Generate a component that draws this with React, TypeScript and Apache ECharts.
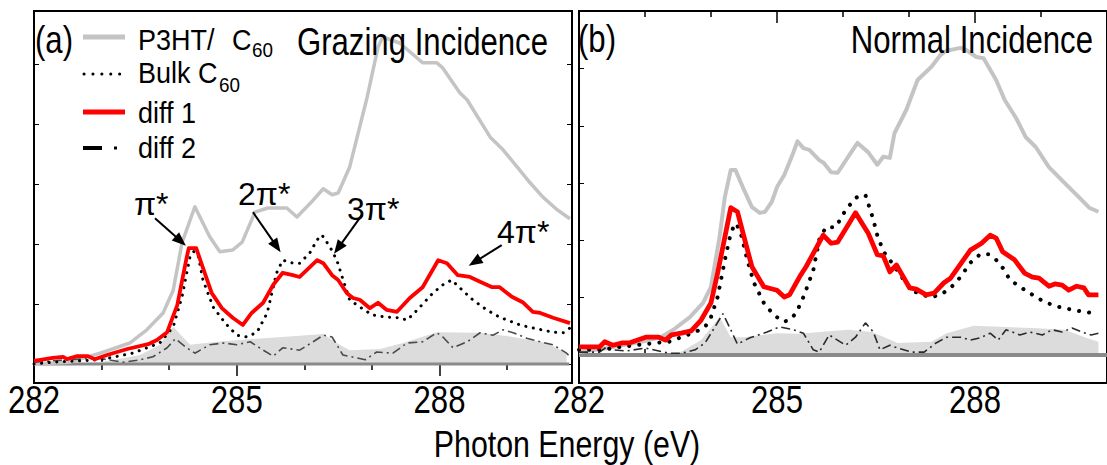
import React, { useEffect, useRef } from "react";
import * as echarts from "echarts";

// Photon energy tick labels (eV)
const energyTicks = [282, 285, 288];

// (a) Grazing incidence spectra: [photon energy (eV), intensity (a.u.)]
const grazingBlend = [
  [282.0, 0.0], [282.53, 0.03], [282.98, 0.18], [283.42, 0.35], [283.67, 0.57], [283.91, 0.85],
  [284.06, 1.23], [284.19, 2.02], [284.38, 2.62], [284.6, 2.12], [284.75, 1.87], [284.94, 1.9],
  [285.08, 2.03], [285.27, 2.53], [285.46, 2.6], [285.74, 2.6], [285.89, 2.45], [286.13, 2.73],
  [286.28, 2.92], [286.41, 2.82], [286.5, 2.85], [286.67, 3.28], [286.93, 4.45], [287.09, 5.28],
  [287.16, 5.45], [287.41, 5.35], [287.75, 5.02], [287.96, 5.02], [288.05, 4.93], [288.3, 4.52],
  [288.41, 4.4], [288.75, 3.78], [288.94, 3.57], [289.34, 3.02], [289.53, 2.78], [289.74, 2.57],
  [289.93, 2.42],
];
const grazingBulk = [
  [282.0, 0.0], [282.28, 0.03], [282.98, 0.07], [283.46, 0.18], [283.86, 0.35], [284.06, 0.62],
  [284.19, 1.12], [284.31, 1.8], [284.37, 1.88], [284.43, 1.8], [284.5, 1.4], [284.65, 0.95],
  [284.83, 0.68], [285.0, 0.48], [285.15, 0.45], [285.3, 0.53], [285.45, 0.85], [285.59, 1.52],
  [285.68, 1.73], [285.83, 1.68], [285.93, 1.68], [286.08, 1.85], [286.19, 2.07], [286.26, 2.15],
  [286.38, 1.95], [286.48, 1.73], [286.56, 1.45], [286.67, 1.07], [286.82, 0.95], [287.0, 0.82],
  [287.22, 0.78], [287.41, 0.77], [287.52, 0.73], [287.67, 0.9], [287.9, 1.18], [288.05, 1.32],
  [288.18, 1.4], [288.3, 1.27], [288.49, 1.07], [288.7, 0.9], [288.89, 0.78], [289.19, 0.65],
  [289.38, 0.6], [289.68, 0.53], [289.83, 0.52], [289.93, 0.6],
];
const grazingDiff1 = [
  [282.0, 0.05], [282.28, 0.1], [282.43, 0.12], [282.49, 0.08], [282.64, 0.13], [282.8, 0.13],
  [282.9, 0.08], [283.08, 0.15], [283.38, 0.25], [283.69, 0.33], [283.82, 0.4], [283.97, 0.53],
  [284.12, 0.98], [284.26, 1.78], [284.29, 1.93], [284.4, 1.93], [284.51, 1.57], [284.63, 1.18],
  [284.78, 0.93], [284.94, 0.77], [285.09, 0.65], [285.22, 0.85], [285.39, 1.02], [285.54, 1.32],
  [285.68, 1.52], [285.83, 1.48], [285.93, 1.45], [286.19, 1.73], [286.28, 1.68], [286.41, 1.48],
  [286.5, 1.4], [286.63, 1.18], [286.72, 1.1], [286.82, 1.07], [286.97, 0.93], [287.09, 1.02],
  [287.22, 0.9], [287.37, 0.87], [287.56, 1.1], [287.75, 1.28], [287.98, 1.73], [288.11, 1.68],
  [288.27, 1.48], [288.45, 1.45], [288.6, 1.37], [288.78, 1.28], [288.89, 1.28], [289.07, 1.12],
  [289.23, 1.03], [289.38, 0.87], [289.49, 0.85], [289.68, 0.77], [289.93, 0.68],
];
const grazingDiff2 = [
  [282.0, 0.03], [282.49, 0.07], [282.93, 0.1], [283.32, 0.03], [283.57, 0.07], [283.76, 0.12],
  [283.97, 0.27], [284.09, 0.42], [284.26, 0.27], [284.38, 0.18], [284.6, 0.32], [284.8, 0.35],
  [285.0, 0.32], [285.2, 0.37], [285.39, 0.23], [285.54, 0.13], [285.68, 0.27], [285.93, 0.23],
  [286.13, 0.37], [286.28, 0.48], [286.41, 0.45], [286.48, 0.32], [286.57, 0.15], [286.78, 0.1],
  [286.9, 0.07], [287.07, 0.2], [287.31, 0.18], [287.52, 0.35], [287.75, 0.37], [287.96, 0.52],
  [288.05, 0.45], [288.2, 0.27], [288.41, 0.37], [288.6, 0.52], [288.79, 0.48], [288.94, 0.57],
  [289.09, 0.52], [289.29, 0.43], [289.49, 0.37], [289.68, 0.32], [289.88, 0.18], [289.93, 0.12],
];
const grazingShade = [
  [282.0, 0.0], [282.98, 0.03], [283.57, 0.15], [283.86, 0.32], [284.06, 0.62], [284.31, 0.32],
  [284.71, 0.37], [285.39, 0.43], [285.93, 0.47], [286.28, 0.5], [286.48, 0.35], [286.67, 0.23],
  [287.12, 0.25], [287.46, 0.35], [287.96, 0.53], [288.6, 0.52], [289.09, 0.45], [289.59, 0.35],
  [289.88, 0.18],
];
const grazingBaseline = [[282.0, 0], [289.92, 0]];

// (b) Normal incidence spectra: [photon energy (eV), intensity (a.u.)]
const normalBlend = [
  [282.0, 0.05], [282.43, 0.12], [282.94, 0.23], [283.24, 0.31], [283.43, 0.44], [283.68, 0.66],
  [283.88, 0.91], [284.0, 1.19], [284.13, 2.06], [284.21, 2.76], [284.3, 3.23], [284.37, 3.23],
  [284.5, 2.88], [284.62, 2.58], [284.74, 2.48], [284.82, 2.5], [284.92, 2.67], [285.0, 2.93],
  [285.11, 3.14], [285.25, 3.54], [285.31, 3.73], [285.4, 3.61], [285.49, 3.58], [285.64, 3.4],
  [285.71, 3.35], [285.82, 3.19], [285.92, 3.18], [286.08, 3.46], [286.22, 3.7], [286.38, 3.54],
  [286.52, 3.32], [286.61, 3.46], [286.71, 3.44], [286.78, 3.87], [286.96, 4.28], [287.13, 4.8],
  [287.34, 5.03], [287.48, 5.24], [287.57, 5.31], [287.78, 5.36], [287.87, 5.32], [288.02, 5.2],
  [288.13, 5.18], [288.32, 4.8], [288.45, 4.45], [288.62, 4.14], [288.77, 3.8], [288.92, 3.63],
  [289.12, 3.28], [289.36, 3.0], [289.57, 2.76], [289.73, 2.57], [289.87, 2.5],
];
const normalBulk = [
  [282.0, 0.09], [282.36, 0.09], [282.61, 0.14], [282.86, 0.17], [283.16, 0.21], [283.36, 0.23],
  [283.55, 0.31], [283.76, 0.4], [283.91, 0.49], [284.0, 0.66], [284.1, 1.01], [284.21, 1.66],
  [284.3, 2.13], [284.37, 2.3], [284.44, 2.18], [284.55, 1.66], [284.65, 1.26], [284.8, 0.91],
  [284.95, 0.7], [285.1, 0.58], [285.19, 0.61], [285.29, 0.73], [285.4, 1.01], [285.55, 1.48],
  [285.64, 2.01], [285.74, 2.23], [285.89, 2.23], [286.04, 2.53], [286.19, 2.74], [286.28, 2.79],
  [286.34, 2.79], [286.38, 2.65], [286.46, 2.36], [286.53, 2.04], [286.63, 1.78], [286.74, 1.61],
  [286.89, 1.36], [287.04, 1.13], [287.19, 1.05], [287.34, 1.01], [287.48, 1.05], [287.63, 1.17],
  [287.78, 1.36], [287.93, 1.61], [288.08, 1.76], [288.2, 1.76], [288.32, 1.66], [288.42, 1.52],
  [288.53, 1.31], [288.68, 1.19], [288.87, 1.05], [289.06, 0.92], [289.27, 0.84], [289.47, 0.79],
  [289.66, 0.75], [289.81, 0.73],
];
const normalDiff1 = [
  [282.0, 0.14], [282.31, 0.14], [282.39, 0.23], [282.51, 0.17], [282.66, 0.21], [282.76, 0.21],
  [283.01, 0.31], [283.21, 0.31], [283.31, 0.26], [283.4, 0.35], [283.55, 0.38], [283.7, 0.42],
  [283.85, 0.61], [284.0, 0.91], [284.1, 1.43], [284.21, 2.06], [284.3, 2.57], [284.4, 2.5],
  [284.5, 2.06], [284.62, 1.54], [284.8, 1.19], [285.0, 1.13], [285.11, 1.01], [285.19, 1.05],
  [285.34, 1.36], [285.44, 1.54], [285.7, 2.09], [285.82, 1.95], [285.92, 1.97], [286.19, 2.48],
  [286.38, 2.13], [286.52, 1.75], [286.61, 1.73], [286.71, 1.45], [286.81, 1.57], [287.01, 1.17],
  [287.11, 1.15], [287.26, 1.05], [287.38, 1.08], [287.53, 1.26], [287.63, 1.34], [287.93, 1.83],
  [288.1, 1.95], [288.23, 2.09], [288.32, 2.04], [288.42, 1.8], [288.6, 1.66], [288.75, 1.43],
  [288.87, 1.36], [288.97, 1.34], [289.12, 1.2], [289.21, 1.24], [289.32, 1.22], [289.42, 1.13],
  [289.54, 1.2], [289.65, 1.17], [289.72, 1.05], [289.87, 1.05],
];
const normalDiff2 = [
  [282.0, 0.05], [282.31, 0.05], [282.42, 0.14], [282.51, 0.09], [282.72, 0.07], [283.01, 0.12],
  [283.21, 0.07], [283.36, 0.03], [283.55, 0.03], [283.76, 0.09], [283.91, 0.21], [284.06, 0.49],
  [284.18, 0.72], [284.3, 0.44], [284.4, 0.19], [284.59, 0.3], [284.85, 0.4], [285.04, 0.49],
  [285.25, 0.44], [285.4, 0.38], [285.55, 0.09], [285.64, 0.05], [285.79, 0.35], [286.04, 0.17],
  [286.19, 0.31], [286.34, 0.56], [286.46, 0.4], [286.56, 0.09], [286.71, 0.17], [286.83, 0.12],
  [287.04, 0.05], [287.23, 0.05], [287.41, 0.21], [287.57, 0.31], [287.78, 0.31], [287.93, 0.26],
  [288.08, 0.3], [288.23, 0.38], [288.35, 0.26], [288.47, 0.44], [288.68, 0.35], [288.83, 0.4],
  [289.02, 0.35], [289.17, 0.44], [289.32, 0.4], [289.47, 0.47], [289.62, 0.4], [289.76, 0.35],
  [289.87, 0.38],
];
const normalShade = [
  [282.0, 0.0], [283.51, 0.03], [283.85, 0.26], [284.06, 0.56], [284.13, 0.66], [284.3, 0.31],
  [284.5, 0.31], [285.0, 0.38], [285.34, 0.37], [285.64, 0.4], [286.08, 0.44], [286.44, 0.4],
  [286.83, 0.21], [287.34, 0.23], [287.57, 0.38], [287.98, 0.51], [288.87, 0.47], [289.36, 0.44],
  [289.66, 0.31], [289.87, 0.23],
];
const normalBaseline = [[282.0, 0], [290.0, 0]];

// Peak annotations in panel (a): label, arrow start, arrow end
const peakLabels = ["\u03c0*", "2\u03c0*", "3\u03c0*", "4\u03c0*"];
const peakArrows = [
  [[283.79, 2.43], [284.17, 2.05]],
  [[285.24, 2.53], [285.59, 1.96]],
  [[286.85, 2.48], [286.5, 1.93]],
  [[288.92, 1.98], [288.52, 1.7]],
];

const SANS = "'Liberation Sans', Arial, Helvetica, sans-serif";
// condensed look of the figure lettering
const SQUEEZE = 0.82;
const LEGEND_SQUEEZE = 0.9;

const BLEND_COLOR = "#c4c4c4";
const SHADE_COLOR = "#dcdcdc";
const BASE_COLOR = "#8a8a8a";

function energyAxes(grid: number, max: number) {
  const common = {
    type: "value",
    gridIndex: grid,
    min: 282,
    max,
    interval: 3,
    axisLine: { show: false },
    axisTick: { show: true, inside: true, length: 12, lineStyle: { color: "#000", width: 1.5 } },
    minorTick: { show: true, splitNumber: 3, length: 6, lineStyle: { color: "#000", width: 1.5 } },
    axisLabel: { show: false },
    splitLine: { show: false },
    minorSplitLine: { show: false },
  };
  return [
    { ...common, position: "bottom" },
    { ...common, position: "top" },
  ];
}

function intensityAxis(grid: number, position: string, min: number, max: number) {
  return {
    type: "value",
    gridIndex: grid,
    position,
    min,
    max,
    splitNumber: 6,
    axisLine: { show: false },
    axisTick: { show: true, inside: true, length: 5, lineStyle: { color: "#000", width: 1 } },
    axisLabel: { show: false },
    splitLine: { show: false },
  };
}

function panelSeries(
  xi: number,
  yi: number,
  d: { shade: number[][]; base: number[][]; blend: number[][]; bulk: number[][]; diff1: number[][]; diff2: number[][] },
  w: { blend: number; dot: number; gap: number; red: number; dd: string; base: number },
) {
  const ax = { xAxisIndex: xi, yAxisIndex: yi, symbol: "none", silent: true };
  return [
    { ...ax, type: "line", name: "shade", data: d.shade, lineStyle: { width: 0 }, areaStyle: { color: SHADE_COLOR, opacity: 1 }, z: 1 },
    { ...ax, type: "line", name: "baseline", data: d.base, lineStyle: { color: BASE_COLOR, width: w.base }, z: 2 },
    { ...ax, type: "line", name: "P3HT/C60", data: d.blend, lineStyle: { color: BLEND_COLOR, width: w.blend, join: "round" }, z: 3 },
    { ...ax, type: "line", name: "diff 2", data: d.diff2, lineStyle: { color: w.dd, width: 1.6, type: [9, 4, 2, 4] }, z: 4 },
    { ...ax, type: "line", name: "Bulk C60", data: d.bulk, lineStyle: { color: "#000", width: w.dot, type: [0.1, w.gap], cap: "round" }, z: 5 },
    { ...ax, type: "line", name: "diff 1", data: d.diff1, lineStyle: { color: "#ff0000", width: w.red, join: "round" }, z: 6 },
  ];
}

// text anchored at (x, y); y is the vertical middle of the line box
function txt(text: string, x: number, y: number, size: number, align = "left", squeeze = SQUEEZE) {
  return {
    type: "text",
    x,
    y,
    scaleX: squeeze,
    silent: true,
    z: 20,
    style: { text, fontSize: size, fontFamily: SANS, fill: "#000", align, verticalAlign: "middle" },
  };
}

export default function App() {
  const ref = useRef<HTMLDivElement>(null);

  useEffect(() => {
    if (!ref.current) return;
    const chart = echarts.init(ref.current, undefined, { renderer: "svg" });

    const series: any[] = [
      ...panelSeries(0, 0,
        { shade: grazingShade, base: grazingBaseline, blend: grazingBlend, bulk: grazingBulk, diff1: grazingDiff1, diff2: grazingDiff2 },
        { blend: 3.5, dot: 3, gap: 7.5, red: 3.8, dd: "#4a4a4a", base: 3 }),
      ...panelSeries(2, 2,
        { shade: normalShade, base: normalBaseline, blend: normalBlend, bulk: normalBulk, diff1: normalDiff1, diff2: normalDiff2 },
        { blend: 4, dot: 4, gap: 10, red: 4.8, dd: "#2a2a2a", base: 4 }),
    ];

    // arrows pointing at the C60 resonances
    series.push({
      type: "line",
      xAxisIndex: 0,
      yAxisIndex: 0,
      data: [],
      silent: true,
      z: 10,
      markLine: {
        silent: true,
        symbol: ["none", "triangle"],
        symbolSize: [11, 14],
        label: { show: false },
        lineStyle: { color: "#000", width: 2, type: "solid" },
        data: peakArrows.map(([a, b]) => [{ coord: a }, { coord: b }]),
      },
    });

    const lf = 30;
    const ls = LEGEND_SQUEEZE;
    const graphic: any[] = [
      // legend
      { type: "line", shape: { x1: 83, y1: 37, x2: 125, y2: 37 }, style: { stroke: BLEND_COLOR, lineWidth: 5 } },
      txt("P3HT/", 138, 39, lf, "left", ls),
      txt("C", 232, 39, lf, "left", ls),
      txt("60", 252, 50, 21, "left", ls),
      { type: "line", shape: { x1: 84, y1: 74, x2: 121, y2: 74 }, style: { stroke: "#000", lineWidth: 3, lineDash: [0.1, 8.8], lineCap: "round" } },
      txt("Bulk C", 138, 72, lf, "left", ls),
      txt("60", 219, 85, 21, "left", ls),
      { type: "line", shape: { x1: 83, y1: 112, x2: 125, y2: 112 }, style: { stroke: "#ff0000", lineWidth: 5 } },
      txt("diff 1", 138, 112, lf, "left", ls),
      { type: "line", shape: { x1: 83, y1: 148, x2: 102, y2: 148 }, style: { stroke: "#000", lineWidth: 4 } },
      { type: "rect", shape: { x: 114, y: 146.5, width: 3, height: 3 }, style: { fill: "#000" } },
      txt("diff 2", 138, 147, lf, "left", ls),
      // panel captions
      txt("(a)", 35, 40, 38),
      txt("Grazing Incidence", 548, 42, 38, "right"),
      txt("(b)", 578, 39, 38),
      txt("Normal Incidence", 1093, 40, 38, "right"),
      // peak labels
      txt(peakLabels[0], 134, 204, 32, "left", 1),
      txt(peakLabels[1], 238, 194, 32, "left", 1),
      txt(peakLabels[2], 347, 209, 32, "left", 1),
      txt(peakLabels[3], 497, 232, 32, "left", 1),
      // shared axis title
      txt("Photon Energy (eV)", 567, 444, 37, "center"),
    ];

    const option: any = {
      animation: false,
      backgroundColor: "#fff",
      grid: [
        { left: 34, top: 11, width: 538, height: 372, show: true, borderColor: "#000", borderWidth: 2, backgroundColor: "transparent" },
        { left: 579, top: 11, width: 538, height: 372, show: true, borderColor: "#000", borderWidth: 2, backgroundColor: "transparent" },
      ],
      xAxis: [...energyAxes(0, 289.96), ...energyAxes(1, 290)],
      yAxis: [
        intensityAxis(0, "left", -0.317, 5.883),
        intensityAxis(0, "right", -0.317, 5.883),
        intensityAxis(1, "left", -0.489, 6.003),
      ],
      series,
      graphic,
    };
    chart.setOption(option);

    // tick labels placed at the axes' own pixel positions, in the condensed lettering
    const tickLabels: any[] = [];
    [0, 2].forEach((xi) => {
      energyTicks.forEach((t) => {
        const px = chart.convertToPixel({ xAxisIndex: xi }, t) as number;
        tickLabels.push(txt(String(t), px, 400, 38, "center"));
      });
    });
    chart.setOption({ graphic: [...graphic, ...tickLabels] });

    return () => chart.dispose();
  }, []);

  return <div ref={ref} style={{ position: "absolute", left: 0, top: 0, width: 1107, height: 465 }} />;
}
